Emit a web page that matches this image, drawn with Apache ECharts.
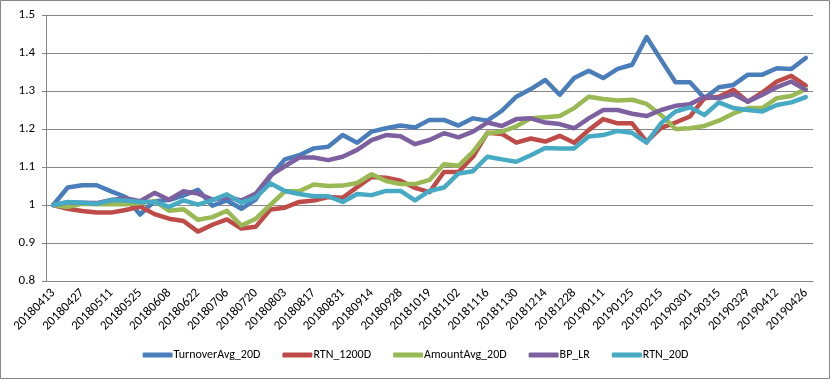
<!DOCTYPE html>
<html>
<head>
<meta charset="utf-8">
<script src="https://cdn.jsdelivr.net/npm/echarts@6/dist/echarts.min.js"></script>
<style>
html,body{margin:0;padding:0;background:#fff;}
#chart{width:831px;height:380px;}
</style>
</head>
<body>
<div id="chart"></div>
<script>
const categories = [
  '20180413','20180420','20180427','20180504','20180511','20180518','20180525','20180601','20180608','20180615',
  '20180622','20180629','20180706','20180713','20180720','20180727','20180803','20180810','20180817','20180824',
  '20180831','20180907','20180914','20180921','20180928','20181012','20181019','20181026','20181102','20181109',
  '20181116','20181123','20181130','20181207','20181214','20181221','20181228','20190104','20190111','20190118',
  '20190125','20190201','20190215','20190222','20190301','20190308','20190315','20190322','20190329','20190404',
  '20190412','20190419','20190426'
];

const turnoverAvg20D = [1.000,1.046,1.052,1.052,1.036,1.021,0.975,1.010,1.013,1.025,1.040,0.998,1.012,0.990,1.015,1.075,1.120,
  1.131,1.149,1.153,1.184,1.164,1.193,1.202,1.209,1.204,1.224,1.224,1.209,1.228,1.222,1.248,1.285,1.305,1.329,
  1.290,1.334,1.353,1.334,1.358,1.369,1.442,1.382,1.323,1.323,1.281,1.310,1.316,1.343,1.343,1.360,1.358,1.387];

const rtn1200D = [1.000,0.990,0.984,0.980,0.980,0.987,0.996,0.976,0.964,0.958,0.930,0.948,0.962,0.938,0.943,0.988,0.993,1.008,
  1.012,1.021,1.019,1.047,1.074,1.072,1.064,1.045,1.034,1.087,1.087,1.127,1.190,1.187,1.164,1.175,1.167,
  1.182,1.164,1.197,1.226,1.215,1.215,1.167,1.203,1.217,1.233,1.281,1.285,1.303,1.272,1.296,1.325,1.340,1.314];

const amountAvg20D = [1.000,0.995,1.003,1.002,1.002,1.002,1.005,1.010,0.985,0.989,0.961,0.968,0.985,0.946,0.964,1.000,1.036,1.036,
  1.054,1.050,1.051,1.058,1.081,1.063,1.055,1.055,1.066,1.107,1.103,1.140,1.189,1.193,1.207,1.228,1.231,
  1.234,1.255,1.285,1.279,1.275,1.277,1.266,1.237,1.200,1.202,1.208,1.222,1.241,1.255,1.255,1.281,1.287,1.305];

const bpLR = [1.000,1.007,1.006,1.005,1.013,1.018,1.010,1.032,1.014,1.036,1.030,1.014,1.021,1.012,1.030,1.078,1.102,1.125,
  1.125,1.118,1.127,1.145,1.171,1.184,1.181,1.160,1.171,1.189,1.178,1.193,1.217,1.208,1.226,1.228,1.217,
  1.213,1.202,1.228,1.250,1.250,1.240,1.234,1.250,1.261,1.265,1.285,1.281,1.292,1.272,1.290,1.310,1.325,1.303];

const rtn20D = [1.000,1.008,1.006,1.003,1.013,1.012,1.008,1.008,0.995,1.012,1.001,1.013,1.028,1.006,1.020,1.057,1.037,1.029,
  1.023,1.023,1.008,1.029,1.026,1.037,1.037,1.012,1.037,1.046,1.083,1.089,1.127,1.120,1.114,1.131,1.150,
  1.149,1.149,1.180,1.184,1.195,1.190,1.164,1.215,1.246,1.257,1.237,1.270,1.255,1.250,1.246,1.263,1.270,1.284];

const seriesNames = ['TurnoverAvg_20D','RTN_1200D','AmountAvg_20D','BP_LR','RTN_20D'];
const seriesValues = [turnoverAvg20D, rtn1200D, amountAvg20D, bpLR, rtn20D];
const colors = ['#4A7EBB','#BE4B48','#98B954','#7D60A0','#46AAC5'];

const FONT = 'Carlito, "Liberation Sans Narrow", "Liberation Sans", sans-serif';

const chart = echarts.init(document.getElementById('chart'), null, {renderer: 'canvas'});
chart.setOption({
  animation: false,
  backgroundColor: '#fff',
  color: colors,
  graphic: [{
    type: 'rect', silent: true, z: -1,
    shape: {x: 0.5, y: 0.5, width: 829, height: 378},
    style: {fill: 'none', stroke: '#868686', lineWidth: 1}
  }],
  grid: {left: 46, right: 18, top: 15, bottom: 99, containLabel: false},
  legend: {
    bottom: 14,
    left: 'center',
    itemWidth: 30,
    itemHeight: 5,
    itemGap: 22,
    icon: 'roundRect',
    textStyle: {fontFamily: FONT, fontSize: 12, color: '#000', padding: [0,0,0,-4]},
    data: seriesNames
  },
  xAxis: {
    type: 'category',
    data: categories,
    boundaryGap: true,
    axisLine: {lineStyle: {color: '#868686', width: 1}},
    axisTick: {interval: 0, length: 5, lineStyle: {color: '#868686'}},
    axisLabel: {interval: 1, rotate: 45, margin: 10, fontFamily: FONT, fontSize: 13, color: '#000'},
    splitLine: {show: false}
  },
  yAxis: {
    type: 'value',
    min: 0.8, max: 1.5, interval: 0.1,
    axisLine: {show: true, lineStyle: {color: '#868686', width: 1}},
    axisTick: {show: true, length: 4, lineStyle: {color: '#868686'}},
    axisLabel: {margin: 11, fontFamily: FONT, fontSize: 13, color: '#000',
      formatter: v => String(Math.round(v * 10) / 10)},
    splitLine: {lineStyle: {color: '#868686', width: 1}}
  },
  series: seriesNames.map((name, k) => ({
    name: name,
    type: 'line',
    data: seriesValues[k],
    symbol: 'none',
    smooth: false,
    z: 2 + k,
    lineStyle: {width: 4.5, color: colors[k], cap: 'round', join: 'round'}
  }))
});
</script>
</body>
</html>
